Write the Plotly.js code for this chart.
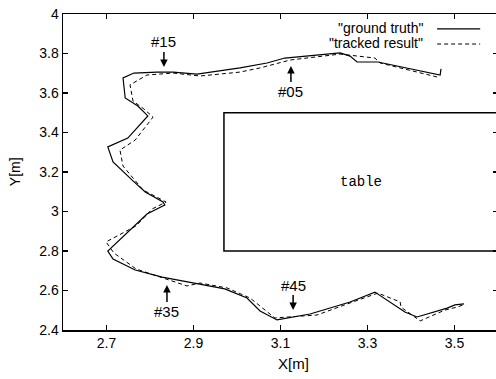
<!DOCTYPE html>
<html>
<head>
<meta charset="utf-8">
<script src="https://cdn.plot.ly/plotly-3.0.1.min.js"></script>
<style>
html,body{margin:0;padding:0;overflow:hidden;background:#fff;}
#chart{width:498px;height:379px;}
</style>
</head>
<body>
<div id="chart"></div>
<script>
// ground truth path (X[m], Y[m])
const truthX = [3.469,3.467,3.324,3.276,3.260,3.237,3.110,3.069,3.007,2.908,2.853,2.816,2.763,2.738,2.743,2.772,2.795,2.749,2.703,2.715,2.759,2.789,2.830,2.834,2.793,2.703,2.715,2.766,2.828,2.899,2.972,3.023,3.053,3.092,3.168,3.260,3.317,3.386,3.414,3.483,3.501,3.522];
const truthY = [3.722,3.691,3.757,3.757,3.787,3.803,3.777,3.752,3.727,3.696,3.706,3.706,3.701,3.676,3.575,3.534,3.484,3.372,3.327,3.251,3.159,3.099,3.048,3.033,2.987,2.800,2.759,2.704,2.668,2.638,2.608,2.562,2.496,2.451,2.481,2.542,2.592,2.491,2.466,2.511,2.527,2.532];
// tracked result path
const trackX = [3.460,3.329,3.317,3.237,3.122,3.053,3.007,2.915,2.853,2.793,2.754,2.761,2.786,2.807,2.766,2.731,2.738,2.761,2.784,2.837,2.805,2.768,2.699,2.717,2.768,2.885,2.915,2.977,3.030,3.087,3.184,3.260,3.324,3.375,3.377,3.421,3.478,3.506,3.520];
const trackY = [3.681,3.752,3.777,3.797,3.767,3.727,3.706,3.686,3.701,3.691,3.641,3.559,3.519,3.478,3.362,3.311,3.230,3.170,3.109,3.048,3.013,2.927,2.846,2.790,2.709,2.623,2.638,2.613,2.562,2.461,2.476,2.537,2.587,2.542,2.516,2.446,2.501,2.516,2.527];
const seriesNames = ['"ground truth"', '"tracked result"'];
const xTicks = [2.7, 2.9, 3.1, 3.3, 3.5];
const yTicks = [2.4, 2.6, 2.8, 3, 3.2, 3.4, 3.6, 3.8, 4];
// frame labels and the points they mark
const frameLabels = ['#15', '#05', '#35', '#45'];
const frameX = [2.832, 3.124, 2.839, 3.129];
const frameY = [3.732, 3.737, 2.628, 2.501];
const frameOffsetY = [-25, 26, 27, -25];
// table outline
const tableLabel = 'table';
const tableX = [2.97, 3.8];
const tableY = [2.8, 3.5];

const narrow = 'Liberation Sans Narrow, Arial Narrow, Liberation Sans, Arial, sans-serif';
const sans = 'Liberation Sans, Arial, sans-serif';

const traces = [
  {x: truthX, y: truthY, mode: 'lines', name: seriesNames[0],
   line: {color: '#000', width: 1.2}, showlegend: false},
  {x: trackX, y: trackY, mode: 'lines', name: seriesNames[1],
   line: {color: '#000', width: 1, dash: '4px,3px'}, showlegend: false}
];

const annotations = frameLabels.map((t, i) => ({
  x: frameX[i], y: frameY[i], xref: 'x', yref: 'y', text: t,
  showarrow: true, arrowhead: 2, arrowsize: 1, arrowwidth: 1.5, arrowcolor: '#000',
  ax: 0, ay: frameOffsetY[i], standoff: 0,
  font: {family: narrow, size: 15, color: '#000'}
}));
annotations.push({
  x: 3.285, y: (tableY[0] + tableY[1]) / 2, xref: 'x', yref: 'y',
  text: tableLabel, showarrow: false,
  font: {family: 'Liberation Mono, DejaVu Sans Mono, monospace', size: 14, color: '#000'}
});
// legend texts
annotations.push({x: 0.832, y: 0.956, xref: 'paper', yref: 'paper', xanchor: 'right', yanchor: 'middle',
  text: seriesNames[0], showarrow: false, font: {family: sans, size: 14, color: '#000'}});
annotations.push({x: 0.832, y: 0.908, xref: 'paper', yref: 'paper', xanchor: 'right', yanchor: 'middle',
  text: seriesNames[1], showarrow: false, font: {family: sans, size: 14, color: '#000'}});
// axis titles
annotations.push({x: 0.53, y: -0.105, xref: 'paper', yref: 'paper', xanchor: 'center', yanchor: 'middle',
  text: 'X[m]', showarrow: false, font: {family: narrow, size: 15, color: '#000'}});
annotations.push({x: -0.11, y: 0.5, xref: 'paper', yref: 'paper', xanchor: 'center', yanchor: 'middle',
  text: 'Y[m]', textangle: -90, showarrow: false, font: {family: narrow, size: 14, color: '#000'}});

const shapes = [
  {type: 'rect', xref: 'x', yref: 'y', x0: tableX[0], x1: tableX[1], y0: tableY[0], y1: tableY[1],
   line: {color: '#000', width: 1.5}, fillcolor: 'rgba(0,0,0,0)'},
  {type: 'line', xref: 'paper', yref: 'paper', x0: 0.860, x1: 0.959, y0: 0.953, y1: 0.953,
   line: {color: '#000', width: 1.2}},
  {type: 'line', xref: 'paper', yref: 'paper', x0: 0.860, x1: 0.959, y0: 0.905, y1: 0.905,
   line: {color: '#000', width: 1, dash: '4px,3px'}}
];

const axisCommon = {
  showline: true, linecolor: '#000', linewidth: 1.5, mirror: 'ticks',
  ticks: 'inside', ticklen: 5, tickwidth: 1.2, tickcolor: '#000',
  showgrid: false, zeroline: false, tickmode: 'array'
};

const layout = {
  width: 498, height: 379,
  margin: {l: 63, r: 0, t: 14, b: 49},
  paper_bgcolor: '#fff', plot_bgcolor: '#fff',
  xaxis: Object.assign({}, axisCommon, {range: [2.6, 3.6], tickvals: xTicks,
    ticktext: xTicks.map(v => v.toFixed(1)), tickfont: {family: narrow, size: 14, color: '#000'}}),
  yaxis: Object.assign({}, axisCommon, {range: [2.4, 4], tickvals: yTicks,
    ticktext: yTicks.map(v => String(v)), tickfont: {family: sans, size: 14, color: '#000'}}),
  annotations: annotations,
  shapes: shapes,
  showlegend: false
};

Plotly.newPlot('chart', traces, layout, {displayModeBar: false, staticPlot: true});
</script>
</body>
</html>
